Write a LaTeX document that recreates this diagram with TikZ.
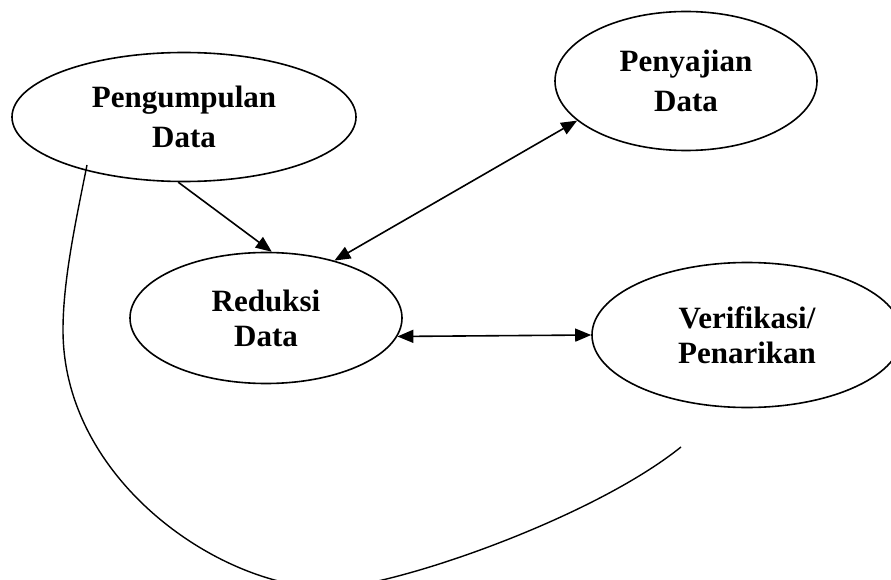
\documentclass[tikz,border=0pt]{standalone}
\usepackage{fontspec}
\setmainfont{Liberation Serif}
\usetikzlibrary{shapes.geometric,arrows.meta}

\begin{document}
\begin{tikzpicture}[x=1pt, y=-1pt,
  tahap/.style={draw, ellipse, line width=1.6pt, inner sep=0pt, align=center,
    font=\fontsize{31}{40}\selectfont\bfseries},
  rapat/.style={font=\fontsize{31}{35}\selectfont\bfseries},
  panah/.style={line width=1.6pt, -{Triangle[length=16pt,width=13pt]}},
  panahdua/.style={line width=1.6pt,
    {Triangle[length=16pt,width=13pt]}-{Triangle[length=16pt,width=13pt]}}]
\useasboundingbox (0,0) rectangle (891,580);
\clip (0,0) rectangle (891,580);

% Tahap analisis
\node[tahap, minimum width=344, minimum height=129] (kumpul) at (184,117) {Pengumpulan\\Data};
\node[tahap, minimum width=262, minimum height=139] (saji) at (686,81) {Penyajian\\Data};
\node[tahap, rapat, minimum width=272, minimum height=131] (reduksi) at (266,318) {Reduksi\\Data};
\node[tahap, rapat, minimum width=310, minimum height=145] (verif) at (747,335) {Verifikasi/\\Penarikan};

% Panah antar tahap
\draw[panah] (kumpul.-95) -- (reduksi.85);
\draw[panahdua] (reduksi.40) -- (saji.200);
\draw[panahdua] (reduksi.-8) -- (verif.180);

% Garis lengkung bawah
\coordinate (awal) at (87,165);
\coordinate (kiri) at (63,330);
\coordinate (dasar) at (330,588);
\coordinate (akhir) at (681,447);
\draw[line width=1.4pt] (awal) .. controls (76,220) and (63,280) .. (kiri)
  .. controls (63,480) and (220,588) .. (dasar)
  .. controls (390,588) and (590,520) .. (akhir);
\end{tikzpicture}
\end{document}
